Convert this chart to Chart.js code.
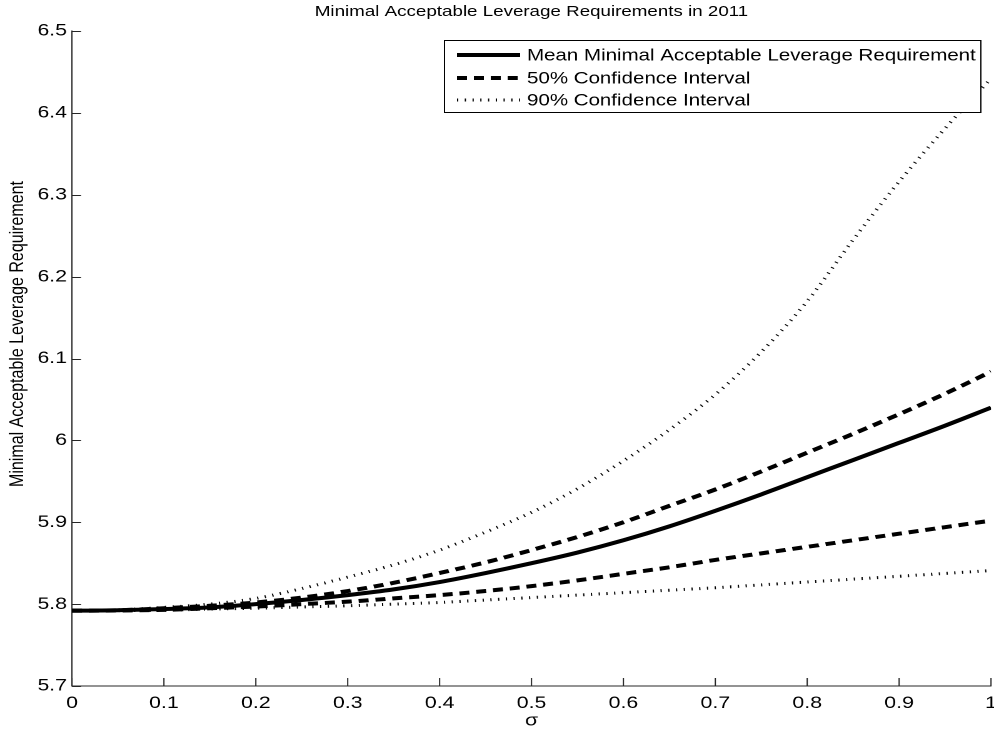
<!DOCTYPE html>
<html>
<head>
<meta charset="utf-8">
<title>Minimal Acceptable Leverage Requirements in 2011</title>
<script src="https://cdn.jsdelivr.net/npm/chart.js@4.4.1/dist/chart.umd.min.js"></script>
<style>
  html, body { margin: 0; padding: 0; background: #fff; overflow: hidden; }
  canvas { display: block; }
</style>
</head>
<body>
<!-- drawn at 795 wide, shown at 994: the figure is stretched sideways like the exported plot -->
<canvas id="leverage" width="795" height="736" style="width:994px;height:736px"></canvas>
<script>
// sigma grid and the five curves
const sigma = [0, 0.05, 0.1, 0.15, 0.2, 0.25, 0.3, 0.35, 0.4, 0.45, 0.5,
               0.55, 0.6, 0.65, 0.7, 0.75, 0.8, 0.85, 0.9, 0.95, 1];
const meanReq   = [5.792, 5.7925, 5.794, 5.796, 5.800, 5.805, 5.811, 5.818, 5.827, 5.838, 5.850,
                   5.863, 5.878, 5.895, 5.914, 5.934, 5.955, 5.976, 5.997, 6.018, 6.040];
const ci50Upper = [5.792, 5.7925, 5.795, 5.798, 5.802, 5.808, 5.816, 5.826, 5.838, 5.851, 5.866,
                   5.882, 5.900, 5.920, 5.940, 5.962, 5.985, 6.008, 6.032, 6.057, 6.084];
const ci50Lower = [5.792, 5.7922, 5.793, 5.795, 5.797, 5.800, 5.803, 5.807, 5.811, 5.816, 5.822,
                   5.829, 5.837, 5.845, 5.854, 5.862, 5.870, 5.878, 5.886, 5.894, 5.902];
const ci90Upper = [5.792, 5.793, 5.796, 5.800, 5.807, 5.819, 5.833, 5.848, 5.866, 5.888, 5.912,
                   5.941, 5.975, 6.013, 6.056, 6.108, 6.170, 6.245, 6.316, 6.381, 6.442];
const ci90Lower = [5.792, 5.7921, 5.7925, 5.794, 5.795, 5.7965, 5.798, 5.800, 5.802, 5.805, 5.808,
                   5.811, 5.814, 5.817, 5.820, 5.8235, 5.827, 5.8305, 5.834, 5.8375, 5.841];

const xTicks = [0, 0.1, 0.2, 0.3, 0.4, 0.5, 0.6, 0.7, 0.8, 0.9, 1];
const yTicks = [5.7, 5.8, 5.9, 6, 6.1, 6.2, 6.3, 6.4, 6.5];

const legendLabels = [
  'Mean Minimal Acceptable Leverage Requirement',
  '50% Confidence Interval',
  '90% Confidence Interval'
];

const FONT = '"Liberation Sans", Arial, Helvetica, sans-serif';
const SOLID = [];
const DASHED = [8, 5.5];
const DOTTED = [1, 5.2];

function pts(values) {
  return sigma.map((s, i) => ({ x: s, y: values[i] }));
}

function curve(values, dash, width) {
  return {
    data: pts(values),
    borderColor: '#000',
    borderWidth: width,
    borderDash: dash,
    borderCapStyle: 'butt',
    pointRadius: 0,
    fill: false,
    cubicInterpolationMode: 'monotone'
  };
}

// plain labels: "6" and "1", not "6.0" / "1.0"
const plainLabel = v => String(Number(v.toFixed(2)));

// ticks inside the axes, titles and the boxed legend
const decorations = {
  id: 'decorations',
  afterDraw(chart) {
    const { ctx, chartArea: a, scales: { x, y } } = chart;
    ctx.save();

    ctx.strokeStyle = '#262626';
    ctx.lineWidth = 1;
    ctx.setLineDash([]);
    ctx.beginPath();
    xTicks.forEach(v => {
      const px = x.getPixelForValue(v);
      ctx.moveTo(px, a.bottom);
      ctx.lineTo(px, a.bottom - 8);
    });
    yTicks.forEach(v => {
      const py = Math.round(y.getPixelForValue(v)) + 0.5;
      ctx.moveTo(a.left, py);
      ctx.lineTo(a.left + 7.2, py);
    });
    ctx.stroke();

    const cx = (a.left + a.right) / 2;
    ctx.fillStyle = '#000';
    ctx.textAlign = 'center';
    ctx.textBaseline = 'middle';

    ctx.font = '15px ' + FONT;
    ctx.fillText('Minimal Acceptable Leverage Requirements in 2011', cx, 12);

    ctx.font = '17px ' + FONT;
    ctx.fillText('σ', cx, 721);

    ctx.save();
    ctx.translate(14, 334);
    ctx.rotate(-Math.PI / 2);
    ctx.font = '16px ' + FONT;
    ctx.fillText('Minimal Acceptable Leverage Requirement', 0, 0);
    ctx.restore();

    // legend
    const box = { l: 355.5, t: 40.5, w: 429, h: 72 };
    ctx.fillStyle = '#fff';
    ctx.fillRect(box.l, box.t, box.w, box.h);
    ctx.strokeStyle = '#000';
    ctx.lineWidth = 1;
    ctx.strokeRect(box.l, box.t, box.w, box.h);

    const rows = [55, 78, 100];
    const styles = [[SOLID, 4], [DASHED, 4], [DOTTED, 3]];
    rows.forEach((ry, i) => {
      ctx.beginPath();
      ctx.setLineDash(styles[i][0]);
      ctx.lineWidth = styles[i][1];
      ctx.lineCap = 'butt';
      ctx.moveTo(365.5, ry);
      ctx.lineTo(416, ry);
      ctx.stroke();
    });
    ctx.setLineDash([]);
    ctx.fillStyle = '#000';
    ctx.textAlign = 'left';
    ctx.font = '16.4px ' + FONT;
    rows.forEach((ry, i) => ctx.fillText(legendLabels[i], 421.5, ry + 1));

    ctx.restore();
  }
};

new Chart(document.getElementById('leverage'), {
  type: 'line',
  data: {
    datasets: [
      curve(ci90Upper, DOTTED, 3),
      curve(ci90Lower, DOTTED, 3),
      curve(ci50Upper, DASHED, 4),
      curve(ci50Lower, DASHED, 4),
      curve(meanReq, SOLID, 4)
    ]
  },
  options: {
    responsive: false,
    devicePixelRatio: 2,
    animation: false,
    events: [],
    layout: { padding: { left: 0, right: 2.4, top: 31, bottom: 0 } },
    plugins: {
      legend: { display: false },
      title: { display: false },
      tooltip: { enabled: false }
    },
    scales: {
      x: {
        type: 'linear',
        min: 0,
        max: 1,
        afterBuildTicks: s => { s.ticks = xTicks.map(v => ({ value: v })); },
        afterFit: s => { s.height = 50; s.paddingLeft = 0; s.paddingRight = 0; },
        grid: { display: false, drawTicks: false },
        border: { display: true, color: '#262626', width: 1 },
        ticks: { color: '#000', font: { family: FONT, size: 17 }, padding: 7, maxRotation: 0, callback: plainLabel }
      },
      y: {
        type: 'linear',
        min: 5.7,
        max: 6.5,
        afterBuildTicks: s => { s.ticks = yTicks.map(v => ({ value: v })); },
        afterFit: s => { s.width = 57.6; s.paddingTop = 0; s.paddingBottom = 0; },
        grid: { display: false, drawTicks: false },
        border: { display: true, color: '#262626', width: 1 },
        ticks: { color: '#000', font: { family: FONT, size: 17 }, padding: 4, callback: plainLabel }
      }
    }
  },
  plugins: [decorations]
});
</script>
</body>
</html>
